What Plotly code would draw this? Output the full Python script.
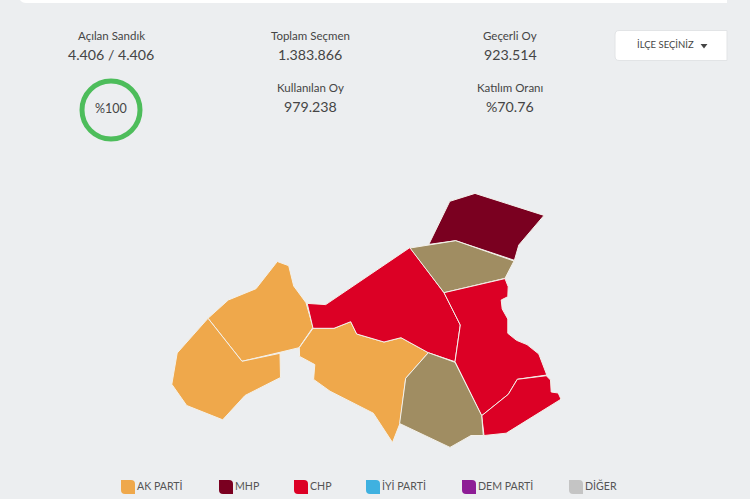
import plotly.graph_objects as go

BG = '#ECEEF0'
FONT = 'Lato'
TEXT = '#454545'

# districts in pixels
ak_north_x = [277.3, 288.7, 293.7, 306, 313, 299, 280, 242, 208, 228.3, 256]
ak_north_y = [261.5, 265.7, 286, 302.7, 327.3, 347.7, 352.3, 361.3, 318.3, 300, 288.7]
ak_west_x = [208, 242, 280, 280.5, 245, 222.7, 186.7, 171.8, 177.2]
ak_west_y = [318.3, 361.3, 353.3, 377.5, 395.5, 419.8, 405.5, 384.3, 353]
ak_mid_x = [313, 334, 350.7, 356.7, 384, 401, 428.3, 405.7, 400, 392.5, 373.3, 330, 313.6, 314.8, 299.6, 299.3]
ak_mid_y = [328.3, 328.3, 321.7, 334, 342, 337.7, 352.7, 378.3, 423.3, 442.5, 413.2, 391.2, 379.4, 364.6, 356.4, 347.7]
chp_mid_x = [307.2, 325.7, 410, 444, 460.3, 455, 428.3, 401, 384, 356.7, 350.7, 334, 313]
chp_mid_y = [303.4, 304.6, 247.5, 292.7, 325, 361.7, 352.7, 337.7, 342, 334, 321.7, 328.3, 328.3]
mhp_x = [428.8, 449.8, 475, 544, 518.8, 514.4, 455.7]
mhp_y = [244.4, 201.3, 193.4, 215.4, 245, 260.3, 240.7]
other_north_x = [410, 455.7, 514, 505, 444]
other_north_y = [248, 240.7, 261, 278.3, 292.7]
chp_east_x = [444, 505, 508.2, 507.8, 501.2, 502.2, 507.8, 507.8, 516.5, 527, 538.8, 546.8, 517.3, 508.3, 481.7, 455, 460.3]
chp_east_y = [292.7, 278.6, 286.7, 296.7, 300, 309, 319, 333.3, 340.3, 344.6, 354, 375, 379.3, 394.3, 415.7, 361.7, 325]
chp_south_x = [481.7, 508.3, 517.3, 546.3, 550.5, 551.2, 558.2, 561, 506.2, 484]
chp_south_y = [415.7, 394.3, 379.3, 375.7, 380, 392, 393, 399.2, 433.2, 435.5]
other_south_x = [428.3, 455, 481.7, 483.3, 471, 450, 399.6, 405.7]
other_south_y = [352.7, 362.3, 415.7, 435.5, 435.5, 447.4, 423.5, 378.3]

district_x = [ak_north_x, ak_west_x, ak_mid_x, chp_mid_x, mhp_x, other_north_x, chp_east_x, chp_south_x, other_south_x]
district_y = [ak_north_y, ak_west_y, ak_mid_y, chp_mid_y, mhp_y, other_north_y, chp_east_y, chp_south_y, other_south_y]
district_party = ['AK PARTİ', 'AK PARTİ', 'AK PARTİ', 'CHP', 'MHP', 'DİĞER2', 'CHP', 'CHP', 'DİĞER2']

party_names = ['AK PARTİ', 'MHP', 'CHP', 'İYİ PARTİ', 'DEM PARTİ', 'DİĞER']
party_colors = ['#EFA84B', '#7A0020', '#DC0025', '#3FB1E0', '#8E1D96', '#C4C4C4']
legend_x = [121, 219, 294, 366, 462, 569]

stat_labels = ['Açılan Sandık', 'Toplam Seçmen', 'Kullanılan Oy', 'Geçerli Oy', 'Katılım Oranı']
stat_values = ['4.406 / 4.406', '1.383.866', '979.238', '923.514', '%70.76']
stat_x = [111, 310, 310, 510, 510]
stat_y = [35.2, 35.2, 87.2, 35.2, 87.2]

fill_by_party = dict(zip(party_names, party_colors))
fill_by_party['DİĞER2'] = '#A08D62'

fig = go.Figure()

for xs, ys, party in zip(district_x, district_y, district_party):
    fig.add_trace(go.Scatter(x=xs + xs[:1], y=ys + ys[:1], mode='lines', fill='toself',
                             fillcolor=fill_by_party[party],
                             line=dict(color='#F4F1EA', width=1),
                             hoverinfo='skip', showlegend=False))

# progress ring
fig.add_trace(go.Scatter(x=[111], y=[110], mode='markers', marker=dict(size=58, color='rgba(0,0,0,0)',
                                     line=dict(color='#4DBD5B', width=5)),
                         hoverinfo='skip', showlegend=False))
fig.add_annotation(x=111, y=108, text='%100', showarrow=False,
                   font=dict(family=FONT, size=12.5, color=TEXT))

# dropdown arrow
fig.add_trace(go.Scatter(x=[704], y=[45.5], mode='markers',
                         marker=dict(symbol='triangle-down', size=6, color=TEXT, line_width=0),
                         hoverinfo='skip', showlegend=False))

# legend swatches, leaf shaped
for color, x0 in zip(party_colors, legend_x):
    x1 = x0 + 14
    fig.add_shape(type='path', layer='below', fillcolor=color, line_width=0,
                  path=f'M {x0} 480 L {x1 - 4} 480 Q {x1} 480 {x1} 484 L {x1} 494 '
                       f'L {x0 + 4} 494 Q {x0} 494 {x0} 490 Z')

for name, x0 in zip(party_names, legend_x):
    fig.add_annotation(x=x0 + 14.2, y=485.6, text=name, showarrow=False, xanchor='left',
                       font=dict(family=FONT, size=10.6, color='#555555'))

for label, value, x0, y0 in zip(stat_labels, stat_values, stat_x, stat_y):
    fig.add_annotation(x=x0, y=y0, text=label, showarrow=False,
                       font=dict(family=FONT, size=11.5, color=TEXT))
    fig.add_annotation(x=x0, y=y0 + 19, text=value, showarrow=False,
                       font=dict(family=FONT, size=14.2, color=TEXT))

fig.add_annotation(x=665, y=44.5, text='İLÇE SEÇİNİZ', showarrow=False,
                   font=dict(family=FONT, size=9.5, color=TEXT))

# white strip at the top and the dropdown button
fig.add_shape(type='path', layer='below', fillcolor='white', line_width=0,
              path='M 20 0 L 727 0 L 727 3 L 26 3 Q 22 3 20 0 Z')
fig.add_shape(type='path', layer='below', fillcolor='white', line=dict(color='#E2E4E6', width=1),
              path='M 619 30.5 L 727 30.5 L 727 60.5 L 619 60.5 Q 615 60.5 615 56 L 615 35 Q 615 30.5 619 30.5 Z')

fig.update_layout(width=750, height=499, autosize=False,
                  margin=dict(l=0, r=0, t=0, b=0),
                  paper_bgcolor=BG, plot_bgcolor=BG,
                  xaxis=dict(range=[0, 750], visible=False, fixedrange=True),
                  yaxis=dict(range=[499, 0], visible=False, fixedrange=True))

fig.write_html("out.html", config=dict(displayModeBar=False),
               post_script="document.body.style.margin='0';document.body.style.background='%s';" % BG)
